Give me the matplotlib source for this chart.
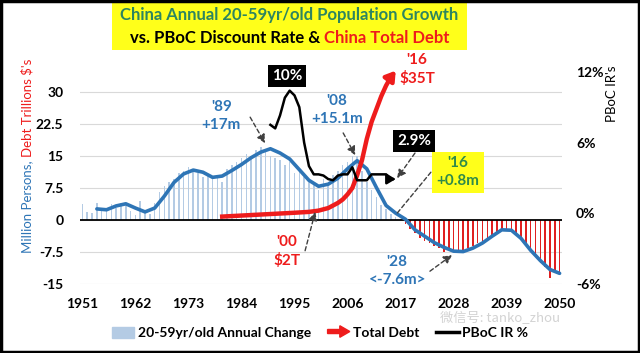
import matplotlib
matplotlib.use('Agg')
import matplotlib.pyplot as plt
import matplotlib.patches as mpatches
from matplotlib.lines import Line2D
from matplotlib.legend_handler import HandlerPatch
import numpy as np

plt.rcParams['font.family'] = ['Lato', 'DejaVu Sans']

# ---------------- data ----------------
bar_years = list(range(1951, 2051))
bar_values = [3.7, 1.9, 1.6, 4.0, 2.2, 2.5, 3.8, 2.8, 4.0, 3.6,
              2.0, 1.2, 4.5, 2.2, 1.5, 4.0, 6.5, 8.0, 9.0, 9.5,
              11.0, 11.5, 12.5, 12.0, 11.0, 10.0, 10.5, 9.5, 10.0, 9.0,
              12.0, 13.0, 13.5, 14.5, 15.5, 15.0, 16.5, 17.0, 16.5, 15.0,
              14.5, 14.0, 13.0, 13.5, 11.0, 12.0, 10.0, 9.0, 8.5, 7.0,
              9.5, 8.5, 10.5, 11.5, 13.0, 13.5, 15.0, 15.1, 11.5, 9.0,
              7.0, 5.5, 3.5, 2.5, 1.5, 0.8, 0.3, -1.0, -2.0, -3.0,
              -4.3, -5.0, -5.5, -6.0, -6.5, -7.5, -6.8, -7.6, -7.0, -7.8,
              -6.5, -6.0, -5.5, -5.0, -4.5, -3.5, -3.0, -2.5, -2.0, -2.5,
              -3.0, -4.0, -5.5, -7.0, -8.5, -10.0, -11.0, -13.5, -12.5, -13.0]

trend_years = [1954, 1956, 1958, 1960, 1962, 1964, 1966, 1968, 1970, 1972,
               1974, 1976, 1978, 1980, 1982, 1984, 1986, 1988, 1990, 1992,
               1994, 1996, 1998, 2000, 2002, 2004, 2006, 2008, 2010, 2012,
               2014, 2016, 2018, 2020, 2022, 2024, 2026, 2028, 2030, 2032,
               2034, 2036, 2038, 2040, 2042, 2044, 2046, 2048, 2050]
trend_values = [2.6, 2.4, 3.3, 3.8, 2.8, 1.9, 2.8, 5.6, 8.8, 10.8,
                11.7, 11.2, 10.0, 10.3, 11.6, 13.0, 14.6, 15.9, 16.7, 15.7,
                14.3, 11.8, 9.3, 7.9, 8.4, 9.8, 12.0, 13.9, 12.0, 7.6,
                3.4, 1.6, 0.2, -2.3, -3.8, -5.3, -6.4, -7.3, -7.4, -6.6,
                -5.4, -3.8, -2.3, -2.4, -4.3, -7.1, -9.5, -11.6, -12.5]

debt_years = [1980, 1985, 1990, 1995, 1998, 2000, 2002, 2004, 2005, 2006,
              2007, 2008, 2009, 2010, 2011, 2012, 2013, 2014, 2015, 2016]
debt_values = [0.8, 1.1, 1.4, 1.7, 1.9, 2.2, 2.8, 4.0, 4.8, 6.0,
               7.5, 10.5, 14.0, 19.0, 23.0, 26.0, 29.0, 31.5, 33.5, 35.0]

pboc_years = [1990, 1991, 1992, 1993, 1994, 1995, 1996, 1997, 1998, 1999,
              2000, 2001, 2002, 2003, 2004, 2005, 2006, 2007, 2008, 2009,
              2010, 2011, 2012, 2013, 2014, 2015, 2016]
pboc_values = [7.5, 7.2, 8.3, 9.8, 10.4, 10.0, 9.0, 6.0, 4.0, 3.3,
               3.3, 3.2, 2.9, 2.8, 3.2, 3.3, 3.3, 3.9, 2.8, 2.8,
               2.8, 3.3, 3.3, 3.3, 3.3, 2.9, 2.9]

xtick_years = [1951, 1962, 1973, 1984, 1995, 2006, 2017, 2028, 2039, 2050]
left_ticks = [-15, -7.5, 0, 7.5, 15, 22.5, 30]
left_tick_labels = ['-15', '-7.5', '0', '7.5', '15', '22.5', '30']
right_ticks = [-6, 0, 6, 12]
right_tick_labels = ['-6%', '0%', '6%', '12%']

# ---------------- styles ----------------
BLUE = '#2e75b6'
BAR_POS = '#b4cbe4'
BAR_NEG = '#e02020'
RED = '#ee1c1c'
GREEN = '#2f8a4a'
TITLE_GREEN = '#2d8560'
ARROW = '#404040'

W, H = 640, 353
def fx(px): return px / W
def fy(py): return 1 - py / H

fig = plt.figure(figsize=(6.4, 3.53), dpi=100)
ax = fig.add_axes([fx(80), fy(284), (562 - 80) / W, (284 - 60) / H])
ax2 = ax.twinx()

bar_colors = [BAR_POS if v >= 0 else BAR_NEG for v in bar_values]
ax.bar(bar_years, bar_values, width=0.32, color=bar_colors, zorder=2)
ax.axhline(0, color='black', lw=1.3, zorder=2.5)
ax.plot(trend_years, trend_values, color=BLUE, lw=2.6, zorder=3,
        solid_capstyle='round', solid_joinstyle='round')
ax.plot(debt_years[:-1], debt_values[:-1], color=RED, lw=3.2, zorder=4,
        solid_joinstyle='round')
ax.annotate('', xy=(debt_years[-1], debt_values[-1]),
            xytext=(debt_years[-2], debt_values[-2]),
            arrowprops=dict(arrowstyle='-|>,head_length=0.55,head_width=0.35',
                            color=RED, lw=3.2, shrinkA=0, shrinkB=0), zorder=4)

ax2.plot(pboc_years[:-1], pboc_values[:-1], color='black', lw=1.8, zorder=5)
ax2.annotate('', xy=(pboc_years[-1], pboc_values[-1]),
             xytext=(pboc_years[-2], pboc_values[-2]),
             arrowprops=dict(arrowstyle='-|>,head_length=0.5,head_width=0.3',
                             color='black', lw=1.8, shrinkA=0, shrinkB=0))

ax.set_xlim(1950.5, 2050.5)
ax.set_ylim(-15, 37.5)
ax2.set_ylim(-6, 13)
ax.set_yticks(left_ticks, left_tick_labels)
ax2.set_yticks(right_ticks, right_tick_labels)
ax.set_xticks(xtick_years, [str(y) for y in xtick_years])
ax.grid(axis='y', color='#d9d9d9', lw=0.8, zorder=0)
ax.set_axisbelow(True)
for a in (ax, ax2):
    for s in a.spines.values():
        s.set_visible(False)
ax.tick_params(axis='both', length=0, labelsize=10)
ax.tick_params(axis='x', pad=10)
ax.tick_params(axis='y', pad=12)
ax2.tick_params(axis='y', length=0, labelsize=10, pad=10)
for lab in ax.get_xticklabels() + ax.get_yticklabels() + ax2.get_yticklabels():
    lab.set_fontweight('bold')

# ---------------- annotations ----------------
dash_arrow = dict(arrowstyle='-|>,head_length=0.5,head_width=0.25', color=ARROW,
                  lw=1.0, linestyle=(0, (3, 2)), shrinkA=0, shrinkB=0)
dash_line = dict(arrowstyle='-', color=ARROW, lw=1.0, linestyle=(0, (3, 2)),
                 shrinkA=0, shrinkB=0)

def T(x, y, s, color, **kw):
    ax2.text(x, y, s, color=color, transform=ax.transData, ha='center', va='center',
             fontsize=11, fontweight='bold', linespacing=1.35, zorder=10, **kw)

T(1993.4, 33.7, '10%', 'white',
  bbox=dict(boxstyle='square,pad=0.25', fc='black', ec='none'))
T(2019.8, 18.5, '2.9%', 'white',
  bbox=dict(boxstyle='square,pad=0.25', fc='black', ec='none'))
T(1979.8, 24.4, "'89\n+17m", BLUE)
T(2003.8, 25.8, "'08\n+15.1m", BLUE)
T(2028.9, 11.2, "'16\n+0.8m", GREEN,
  bbox=dict(boxstyle='square,pad=0.3', fc='#ffff1a', ec='none'))
T(2020.4, 35.2, "'16\n$35T", RED)
T(1993.4, -7.3, "'00\n$2T", RED)
T(2016.3, -12.0, "'28\n<-7.6m>", BLUE)

def A(xy, xytext, props):
    ax2.annotate('', xy=xy, xytext=xytext, xycoords=ax.transData,
                 textcoords=ax.transData, arrowprops=props, zorder=9)

A((1988.9, 18.0), (1985.8, 24.1), dash_arrow)
A((2007.6, 15.2), (2005.1, 20.4), dash_arrow)
A((2016.3, 9.8), (2020.0, 15.7), dash_arrow)
A((2016.3, 1.6), (2023.3, 11.2), dash_line)
A((1999.3, 1.9), (1997.2, -7.2), dash_arrow)
A((2027.7, -8.2), (2023.1, -12.0), dash_arrow)

# ---------------- title box ----------------
fig.patches.append(mpatches.Rectangle((fx(112), fy(50)), (467 - 112) / W, 47 / H,
                                      transform=fig.transFigure, fc='#ffff1a',
                                      ec='none', zorder=0))
fig.text(fx(289.5), fy(15), 'China Annual 20-59yr/old Population Growth',
         color=TITLE_GREEN, fontsize=12, fontweight='bold', ha='center', va='center')
r = fig.canvas.get_renderer()
full = 'vs. PBoC Discount Rate & China Total Debt'
tf = fig.text(0, fy(38), full, fontsize=12, fontweight='bold', ha='left', va='center')
tr = fig.text(0, fy(38), 'China Total Debt', fontsize=12, fontweight='bold',
              ha='left', va='center', color=RED)
wf = tf.get_window_extent(r).width
wr = tr.get_window_extent(r).width
tf.remove()
start = 289.5 - wf / 2
fig.text(fx(start), fy(38), 'vs. PBoC Discount Rate &', fontsize=12, fontweight='bold',
         ha='left', va='center', color='black')
tr.set_x(fx(start + wf - wr))

# ---------------- axis titles ----------------
fulll = "Million Persons, Debt Trillions $'s"
tl = fig.text(fx(27), fy(253), fulll, rotation=90, fontsize=9.5, ha='center', va='bottom')
tb = fig.text(fx(27), fy(253), 'Million Persons,', rotation=90, fontsize=9.5,
              ha='center', va='bottom', color=BLUE)
hf = tl.get_window_extent(r).height
hb = tb.get_window_extent(r).height
tl.remove()
fig.text(fx(27), fy(253 - hf), "Debt Trillions $'s", rotation=90, fontsize=9.5,
         ha='center', va='top', color=RED)

fig.text(fx(612), fy(94), "PBoC IR's", rotation=90, fontsize=9.5,
         ha='center', va='center', color='black')

# ---------------- legend ----------------
def make_arrow(legend, orig_handle, xdescent, ydescent, width, height, fontsize):
    return mpatches.FancyArrow(0, 0.5 * height, width, 0, length_includes_head=True,
                               head_width=1.0 * height, head_length=0.45 * width,
                               width=0.35 * height, color=RED)

handles = [mpatches.Patch(color=BAR_POS),
           mpatches.FancyArrow(0, 0, 1, 0, color=RED),
           Line2D([0], [0], color='black', lw=2.5)]
labels = ['20-59yr/old Annual Change', 'Total Debt', 'PBoC IR %']
fig.legend(handles, labels, loc='center', bbox_to_anchor=(fx(320), fy(333)),
           ncol=3, frameon=False,
           handler_map={mpatches.FancyArrow: HandlerPatch(patch_func=make_arrow)},
           prop=dict(weight='bold', size=10), handlelength=1.6, handletextpad=0.25,
           columnspacing=1.2, handleheight=0.9)

# watermark
fig.text(fx(440), fy(318.5), '微信号: tanko_zhou', fontsize=9.5, color='#c8c8c8',
         family=['Noto Sans CJK SC', 'DejaVu Sans'], ha='left', va='center', alpha=0.8)

# frame
fig.patches.append(mpatches.Rectangle((0.002, 0.003), 0.996, 0.994,
                                      transform=fig.transFigure, fill=False,
                                      ec='black', lw=2.5, zorder=20))

fig.savefig('out.png', dpi=100)
